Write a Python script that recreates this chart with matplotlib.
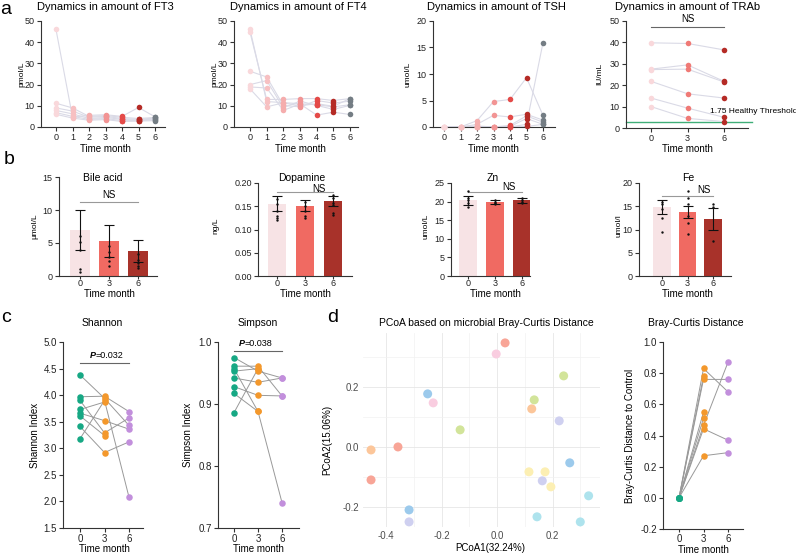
import matplotlib
matplotlib.use('Agg')
import matplotlib.pyplot as plt
from matplotlib.ticker import MultipleLocator
import numpy as np

plt.rcParams['font.family'] = ['Liberation Sans', 'DejaVu Sans']
plt.rcParams['font.size'] = 7

# ---------------- DATA ----------------
months = [0, 1, 2, 3, 4, 5, 6]
ft3_subjects = [
    [46.0, 4.7, 5.5, 5.8, 5.0, 9.2, 4.8],
    [11.2, 9.0, 5.0, 5.4, 4.6, 4.0, 4.5],
    [9.0, 7.5, 4.6, 5.0, 4.0, 3.6, 4.2],
    [7.8, 6.2, 4.0, 4.5, 3.6, 3.2, 3.8],
    [6.8, 5.0, 3.6, 4.0, 3.0, 3.0, 3.4],
    [6.0, 4.2, 3.2, 3.5, 2.6, 2.8, 3.0],
]
ft4_subjects = [
    [46.0, 12.0, 11.5, 11.0, 10.5, 9.5, 10.5],
    [44.7, 13.0, 13.0, 13.4, 13.4, 12.5, 13.4],
    [26.3, 23.6, 10.2, 9.5, 12.5, 11.3, 12.2],
    [20.0, 21.9, 9.1, 12.2, 10.2, 8.3, 10.2],
    [18.9, 18.4, 7.8, 10.9, 5.6, 7.0, 5.9],
    [18.0, 9.5, 11.4, 10.0, 11.0, 9.8, 13.4],
]
tsh_subjects = [
    [0.0, 0.0, 1.2, 4.8, 5.2, 9.3, 2.2],
    [0.0, 0.0, 0.5, 2.2, 1.9, 2.4, 1.3],
    [0.0, 0.0, 0.2, 0.0, 0.3, 2.1, 0.9],
    [0.0, 0.0, 0.0, 0.0, 0.1, 1.6, 0.5],
    [0.0, 0.0, 0.0, 0.0, 0.0, 0.5, 15.9],
    [0.0, 0.0, 0.0, 0.0, 0.0, 0.1, 0.5],
]
trab_months = [0, 3, 6]
trab_subjects = [
    [39.8, 39.5, 36.5],
    [27.5, 29.5, 21.8],
    [27.3, 27.5, 21.5],
    [21.8, 16.0, 14.0],
    [14.0, 9.3, 5.0],
    [10.0, 4.5, 3.0],
]
trab_threshold = 3.0
trab_threshold_label = "1.75 Healthy Threshold"

bar_groups = ["0", "3", "6"]
bile_mean = [7.0, 5.3, 3.8]
bile_err = [3.05, 2.4, 1.7]
bile_dots = [[6.1, 5.2, 3.9, 1.0, 0.6], [4.5, 3.6, 2.9, 2.2, 1.5], [3.3, 2.4, 2.0, 1.5, 1.2]]
dopa_mean = [0.155, 0.151, 0.162]
dopa_err = [0.016, 0.012, 0.011]
dopa_dots = [[0.165, 0.155, 0.14, 0.13, 0.125, 0.12], [0.16, 0.15, 0.14, 0.13, 0.125],
             [0.175, 0.168, 0.158, 0.152, 0.135, 0.132]]
zn_mean = [20.3, 19.9, 20.3]
zn_err = [1.2, 0.6, 0.7]
zn_dots = [[22.8, 21.0, 20.5, 19.5, 18.5], [20.5, 20.0, 19.5, 19.3], [21.0, 20.5, 20.0, 19.5]]
fe_mean = [14.8, 13.7, 12.3]
fe_err = [1.5, 1.25, 2.4]
fe_dots = [[16.0, 15.5, 14.5, 12.5, 9.5], [18.3, 16.8, 15.5, 13.0, 11.5, 9.0], [15.5, 14.8, 7.6]]

alpha_months = [0, 3, 6]
shannon = [  # per subject: month 0, 3, 6
    [4.38, 3.94, 3.43],
    [3.97, 3.98, 3.69],
    [3.90, 3.29, 3.57],
    [3.73, 3.87, np.nan],
    [3.66, 3.52, 3.36],
    [3.61, 3.24, np.nan],
    [3.41, 2.92, 3.12],
    [3.18, 3.90, 2.08],
]
simpson = [
    [0.975, 0.953, 0.942],
    [0.961, 0.961, 0.913],
    [0.957, 0.888, 0.741],
    [0.953, 0.957, np.nan],
    [0.942, 0.935, 0.942],
    [0.928, 0.914, 0.913],
    [0.917, 0.888, np.nan],
    [0.886, 0.957, np.nan],
]
braycurtis = [
    [0.0, 0.83, 0.68],
    [0.0, 0.78, np.nan],
    [0.0, 0.76, 0.76],
    [0.0, 0.55, np.nan],
    [0.0, 0.51, np.nan],
    [0.0, 0.465, 0.87],
    [0.0, 0.443, 0.37],
    [0.0, 0.27, 0.29],
]
pcoa_x = [0.029, -0.357, -0.454, -0.003, -0.23, -0.25, -0.317, 0.262, -0.133, 0.24, 0.134,
          -0.454, 0.125, -0.317, 0.224, 0.163, 0.115, 0.173, 0.194, 0.144, 0.33, 0.30]
pcoa_y = [0.347, 0.0, -0.11, 0.31, 0.147, 0.177, -0.21, -0.053, 0.057, 0.237, 0.157,
          -0.01, 0.127, -0.25, 0.087, -0.113, -0.083, -0.083, -0.133, -0.233, -0.163, -0.25]
pcoa_group = [0, 0, 0, 1, 1, 2, 2, 2, 3, 3, 3, 4, 4, 5, 5, 5, 6, 6, 6, 7, 7, 7]

# ---------------- STYLE ----------------
W, H = 796, 555
fig = plt.figure(figsize=(W / 100, H / 100), dpi=100)

def add_ax(l, t, r, b):
    return fig.add_axes([l / W, 1 - b / H, (r - l) / W, (b - t) / H])

def ftext(x, y, s, **kw):
    kw.setdefault('ha', 'center')
    kw.setdefault('va', 'center')
    fig.text(x / W, 1 - y / H, s, **kw)

def prism(ax, size=6.5):
    for sp in ['top', 'right']:
        ax.spines[sp].set_visible(False)
    for sp in ['left', 'bottom']:
        ax.spines[sp].set_color('#333333')
        ax.spines[sp].set_linewidth(0.8)
    ax.tick_params(direction='out', length=3, width=0.8, colors='#333333',
                   labelsize=size, pad=1.5, labelcolor='#222222')

time_cols = ['#f9d8db', '#f7c0c2', '#f5adad', '#f29494', '#e44a48', '#b52b26', '#747d84']
line_col = '#dadae6'

def dyn(ax, xs, subjects, cols, ms=16):
    for s in subjects:
        ax.plot(xs, s, color=line_col, lw=0.8, zorder=1, clip_on=False)
    for i, x in enumerate(xs):
        vals = [s[i] for s in subjects]
        ax.scatter([x] * len(vals), vals, s=ms, color=cols[i], zorder=3,
                   clip_on=False, linewidths=0)

# ---------------- ROW a ----------------
ftext(6, 9, 'a', fontsize=14)
rowa = [
    ('Dynamics in amount of FT3', 'pmol/L', ft3_subjects, (41, 165), (56, 155), 50, 10, 22),
    ('Dynamics in amount of FT4', 'pmol/L', ft4_subjects, (234, 358), (250, 350), 50, 10, 215),
    ('Dynamics in amount of TSH', 'umol/L', tsh_subjects, (433, 555), (444, 543), 20, 5, 408),
]
for title, ylab, subj, (l, r), (x0, x6), ymax, ystep, ylx in rowa:
    ax = add_ax(l, 21, r, 127)
    ppu = (x6 - x0) / 6
    ax.set_xlim((l - x0) / ppu, (r - x0) / ppu)
    ax.set_ylim(0, ymax)
    prism(ax)
    ax.set_xticks(months)
    ax.yaxis.set_major_locator(MultipleLocator(ystep))
    dyn(ax, months, subj, time_cols)
    ftext((l + r) / 2 + 2, 7, title, fontsize=8)
    ftext(ylx, 74, ylab, rotation=90, fontsize=6)
    ftext((x0 + x6) / 2, 149, 'Time month', fontsize=7)

ax = add_ax(626, 21, 748, 128)
ppu = (724 - 651) / 6
ax.set_xlim((626 - 651) / ppu, (748 - 651) / ppu)
ax.set_ylim(0, 50)
prism(ax)
ax.set_xticks(trab_months)
ax.yaxis.set_major_locator(MultipleLocator(10))
ax.axhline(trab_threshold, color='#3fae78', lw=1.0, zorder=0, xmax=1.03, clip_on=False)
dyn(ax, trab_months, trab_subjects, ['#f9d8db', '#f07a76', '#b52b26'])
ax.plot([0, 6], [47.2, 47.2], color='#666666', lw=0.8, clip_on=False)
ax.text(3, 48.5, 'NS', ha='center', va='bottom', fontsize=7)
ftext(688, 7, 'Dynamics in amount of TRAb', fontsize=8)
ftext(600, 74, 'IU/mL', rotation=90, fontsize=6)
ftext(687, 149, 'Time month', fontsize=7)
ftext(710, 112, trab_threshold_label, ha='left', fontsize=6)

# ---------------- ROW b ----------------
ftext(9, 160, 'b', fontsize=14)
bar_cols = ['#f7e3e5', '#f06a62', '#a8322a']
rowb = [
    ('Bile acid', 'μmol/L', bile_mean, bile_err, bile_dots, 59, 157, 177, (80, 138), 15, 5, 0.72,
     11.2, (1.0, 12.2), 35, 0),
    ('Dopamine', 'ng/L', dopa_mean, dopa_err, dopa_dots, 258, 352, 183, (277, 333), 0.20, 0.05, 0.65,
     0.1806, (1.5, 0.188), 216, 2),
    ('Zn', 'umol/L', zn_mean, zn_err, zn_dots, 451, 530, 183, (468, 522), 25, 5, 0.63,
     22.6, (1.5, 23.8), 426, 0),
    ('Fe', 'umol/l', fe_mean, fe_err, fe_dots, 639, 731, 183, (662, 713), 20, 5, 0.70,
     17.2, (1.65, 18.6), 619, 0),
]
for (title, ylab, mean, err, dots, l, r, t, (x0, x2), ymax, ystep, bw,
     nsy, (nsx, nsty), ylx, dec) in rowb:
    ax = add_ax(l, t, r, 276)
    ppu = (x2 - x0) / 2
    ax.set_xlim((l - x0) / ppu, (r - x0) / ppu)
    ax.set_ylim(0, ymax)
    prism(ax)
    xs = np.arange(3)
    ax.bar(xs, mean, width=bw, color=bar_cols, zorder=1)
    ax.errorbar(xs, mean, yerr=err, fmt='none', ecolor='#111111', elinewidth=0.8,
                capsize=3.5, capthick=0.8, zorder=3)
    for i, d in enumerate(dots):
        ax.scatter([i] * len(d), d, s=3, color='#111111', zorder=4, linewidths=0)
    ax.set_xticks(xs)
    ax.set_xticklabels(bar_groups)
    ax.tick_params(axis='x', length=2, pad=0.5)
    ax.yaxis.set_major_locator(MultipleLocator(ystep))
    if dec:
        ax.yaxis.set_major_formatter(matplotlib.ticker.FormatStrFormatter('%.2f'))
    ax.plot([0, 2], [nsy, nsy], color='#999999', lw=0.8, clip_on=False)
    ax.text(nsx, nsty, 'NS', ha='center', va='center', fontsize=7)
    ftext({'Bile acid': 103, 'Dopamine': 302, 'Zn': 493, 'Fe': 688}[title], 178, title, fontsize=7.5)
    ftext(ylx, 226, ylab, rotation=90, fontsize=6)
    ftext((x0 + x2) / 2, 294, 'Time month', fontsize=7)

# ---------------- ROW c ----------------
ftext(6, 317, 'c', fontsize=14)
ftext(333, 317, 'd', fontsize=14)
grp_cols = ['#17a884', '#f3982c', '#c28fdc']

def paired(ax, data, cols):
    for s in data:
        ax.plot(alpha_months, s, color='#999999', lw=0.7, zorder=1)
    for j, x in enumerate(alpha_months):
        vals = [s[j] for s in data if not np.isnan(s[j])]
        ax.scatter([x] * len(vals), vals, s=22, color=cols[j], zorder=3,
                   linewidths=0, clip_on=False)

# Shannon
ax = add_ax(63, 342, 143, 528)
ppu = (129 - 80) / 6
ax.set_xlim((63 - 80) / ppu, (143 - 80) / ppu)
ax.set_ylim(1.5, 5.0)
prism(ax, 7)
ax.set_xticks(alpha_months)
ax.yaxis.set_major_locator(MultipleLocator(0.5))
ax.yaxis.set_major_formatter(matplotlib.ticker.FormatStrFormatter('%.1f'))
paired(ax, shannon, grp_cols)
ax.plot([0, 6], [4.6, 4.6], color='#666666', lw=0.8)
ftext(102, 323, 'Shannon', fontsize=7.5)
ftext(35, 435, 'Shannon Index', rotation=90, fontsize=7)
ftext(104, 549, 'Time month', fontsize=7)
ftext(95.5, 356, 'P', ha='right', fontsize=6.5, fontweight='bold', style='italic')
ftext(95.5, 356, '=0.032', ha='left', fontsize=6.5)

# Simpson
ax = add_ax(218, 342, 299, 528)
ppu = (282 - 234) / 6
ax.set_xlim((218 - 234) / ppu, (299 - 234) / ppu)
ax.set_ylim(0.7, 1.0)
prism(ax, 7)
ax.set_xticks(alpha_months)
ax.yaxis.set_major_locator(MultipleLocator(0.1))
ax.yaxis.set_major_formatter(matplotlib.ticker.FormatStrFormatter('%.1f'))
paired(ax, simpson, grp_cols)
ax.plot([0, 6], [0.9855, 0.9855], color='#666666', lw=0.8)
ftext(258, 323, 'Simpson', fontsize=7.5)
ftext(188, 435, 'Simpson Index', rotation=90, fontsize=7)
ftext(258, 549, 'Time month', fontsize=7)
ftext(244.5, 344, 'P', ha='right', fontsize=6.5, fontweight='bold', style='italic')
ftext(244.5, 344, '=0.038', ha='left', fontsize=6.5)

# PCoA
pcoa_cols = ['#f8a597', '#f9cde0', '#9ccaec', '#d2e49a', '#fcc69a', '#cfd0f0', '#fcefb3', '#aee3ed']
ax = add_ax(363, 333, 600, 527)
ax.set_xlim(-0.483, 0.371)
ax.set_ylim(-0.267, 0.38)
for sp in ax.spines.values():
    sp.set_visible(False)
ax.xaxis.set_major_locator(MultipleLocator(0.2))
ax.yaxis.set_major_locator(MultipleLocator(0.2))
ax.xaxis.set_minor_locator(MultipleLocator(0.1))
ax.yaxis.set_minor_locator(MultipleLocator(0.1))
ax.xaxis.set_major_formatter(matplotlib.ticker.FormatStrFormatter('%.1f'))
ax.yaxis.set_major_formatter(matplotlib.ticker.FormatStrFormatter('%.1f'))
ax.grid(which='major', color='#e6e6e6', lw=0.6)
ax.grid(which='minor', color='#f1f1f1', lw=0.5)
ax.set_axisbelow(True)
ax.tick_params(which='both', length=0, labelsize=7, labelcolor='#4d4d4d', pad=3)
ax.scatter(pcoa_x, pcoa_y, s=42, c=[pcoa_cols[g] for g in pcoa_group], linewidths=0, zorder=3)
ftext(486, 323, 'PCoA based on microbial Bray-Curtis Distance', fontsize=7.5)
ftext(490, 548, 'PCoA1(32.24%)', fontsize=7)
ftext(327, 440, 'PCoA2(15.06%)', rotation=90, fontsize=7)

# Bray-Curtis
ax = add_ax(663, 342, 743, 529)
ppu = (728 - 679) / 6
ax.set_xlim((663 - 679) / ppu, (743 - 679) / ppu)
ax.set_ylim(-0.2, 1.0)
prism(ax, 7)
ax.tick_params(axis='x', length=2.5, pad=1)
ax.set_xticks(alpha_months)
ax.yaxis.set_major_locator(MultipleLocator(0.2))
ax.yaxis.set_major_formatter(matplotlib.ticker.FormatStrFormatter('%.1f'))
paired(ax, braycurtis, grp_cols)
ftext(696, 323, 'Bray-Curtis Distance', fontsize=7.5)
ftext(630, 436, 'Bray-Curtis Distance to Control', rotation=90, fontsize=7)
ftext(703, 550, 'Time month', fontsize=7)

fig.savefig('out.png', dpi=100)
